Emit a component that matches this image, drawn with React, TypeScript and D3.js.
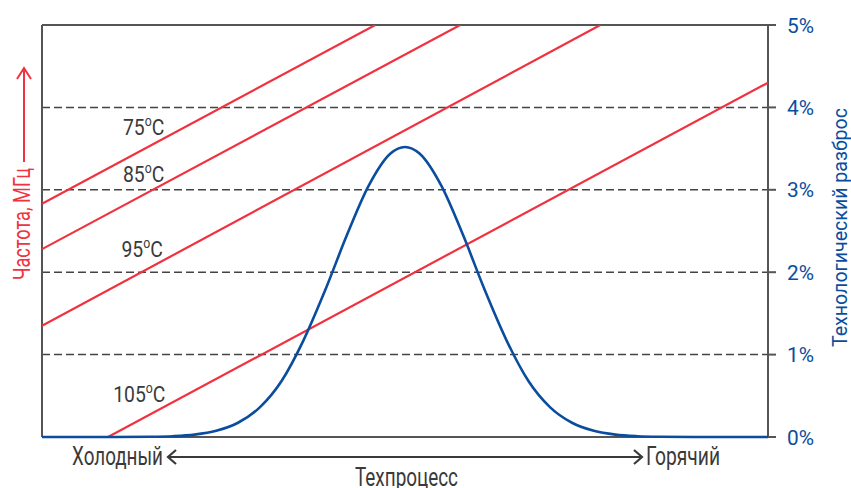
import React from "react";
import * as d3 from "d3";

// Process axis (0 = cold, 100 = hot) and technological spread (%)
const processX = [0, 10, 15, 18, 21, 24, 27, 30, 33, 36, 39, 42, 45, 48, 50, 52, 55, 58, 61, 64, 67, 70, 73, 76, 79, 82, 85, 90, 100];
const spreadPct = [0, 0, 0.003, 0.01, 0.029, 0.075, 0.173, 0.36, 0.68, 1.17, 1.78, 2.45, 3.05, 3.44, 3.52, 3.44, 3.05, 2.45, 1.78, 1.17, 0.68, 0.36, 0.173, 0.075, 0.029, 0.01, 0.003, 0, 0];

// Frequency lines per temperature (start/end in process units, y in right-axis units)
const temps = ["75", "85", "95", "105"];
const freqStartX = [0, 0, 0, 9.1];
const freqStartY = [2.83, 2.28, 1.35, 0];
const freqEndX = [45.9, 57.6, 76.9, 100];
const freqEndY = [5, 5, 5, 4.3];

const yTicks = [0, 1, 2, 3, 4, 5];
const gridTicks = [1, 2, 3, 4];

const W = 851, H = 488;
const L = 42, R = 768, T = 25, B = 437;
const RED = "#f0323f";
const BLUE = "#0a4d9e";
const GRAY = "#555";
const TXT = "#3a3a3a";
const FONT = "Roboto, 'Liberation Sans', sans-serif";

// label anchors (layout), in data units
const labelX = [14.0, 14.0, 13.8, 13.4];
const labelY = [3.66, 3.09, 2.18, 0.42];

export default function App() {
  const x = d3.scaleLinear().domain([0, 100]).range([L, R]);
  const y = d3.scaleLinear().domain([0, 5]).range([B, T]);
  const pts = processX.map((v, i) => [v, spreadPct[i]] as [number, number]);
  const line = d3.line<[number, number]>().x(d => x(d[0])).y(d => y(d[1])).curve(d3.curveMonotoneX);
  const adj = "spacingAndGlyphs";

  return (
    <svg width={W} height={H} style={{ position: "absolute", left: 0, top: 0, fontFamily: FONT }}>
      <defs>
        <clipPath id="plot">
          <rect x={L} y={T} width={R - L} height={B - T} />
        </clipPath>
      </defs>
      <rect x={0} y={0} width={W} height={H} fill="#fff" />

      {/* grid */}
      {gridTicks.map(t => (
        <line key={t} x1={L} x2={R} y1={y(t)} y2={y(t)} stroke="#444" strokeWidth={1.5} strokeDasharray="8,4" />
      ))}

      {/* frame */}
      <line x1={L} x2={R} y1={T} y2={T} stroke={GRAY} strokeWidth={2} />
      <line x1={L} x2={L} y1={T} y2={B} stroke={GRAY} strokeWidth={2} />
      <line x1={L} x2={R} y1={B} y2={B} stroke={GRAY} strokeWidth={2} />
      <line x1={R} x2={R} y1={T - 1} y2={B + 1} stroke={GRAY} strokeWidth={2} />
      {yTicks.map(t => (
        <g key={t}>
          <line x1={R} x2={R + 8} y1={y(t)} y2={y(t)} stroke={GRAY} strokeWidth={2} />
          <text x={R + 19} y={y(t) + 7.5} fontSize={21} fill={BLUE} textLength={27} lengthAdjust={adj}>{t}%</text>
        </g>
      ))}

      {/* frequency lines */}
      <g clipPath="url(#plot)">
        {temps.map((t, i) => (
          <line key={t} x1={x(freqStartX[i])} y1={y(freqStartY[i])} x2={x(freqEndX[i])} y2={y(freqEndY[i])}
            stroke={RED} strokeWidth={2.2} />
        ))}
      </g>

      {/* distribution curve */}
      <path d={line(pts) || ""} fill="none" stroke={BLUE} strokeWidth={2.6} />

      {/* temperature labels */}
      {temps.map((t, i) => (
        <g key={t} transform={`translate(${x(labelX[i])},${y(labelY[i])}) scale(0.88,1)`}>
          <text x={0} y={0} fontSize={22} fill={TXT} textAnchor="middle">
            {t}<tspan fontSize={14} dy={-9}>o</tspan><tspan dy={9}>C</tspan>
          </text>
        </g>
      ))}

      {/* left axis title */}
      <text transform="translate(30,224) rotate(-90)" textAnchor="middle" fontSize={23} fill={RED}
        textLength={112} lengthAdjust={adj}>Частота, МГц</text>
      <line x1={24} x2={24} y1={162} y2={69} stroke={RED} strokeWidth={2} />
      <polyline points="17,79 24,68 31,79" fill="none" stroke={RED} strokeWidth={2} />

      {/* right axis title */}
      <text transform="translate(847,227.5) rotate(-90)" textAnchor="middle" fontSize={20} fill={BLUE}
        textLength={239} lengthAdjust={adj}>Технологический разброс</text>

      {/* bottom annotation */}
      <text x={72} y={465} fontSize={25} fill={TXT} textLength={91} lengthAdjust={adj}>Холодный</text>
      <text x={646} y={465} fontSize={25} fill={TXT} textLength={74} lengthAdjust={adj}>Горячий</text>
      <line x1={168} x2={642} y1={457} y2={457} stroke={TXT} strokeWidth={2} />
      <polyline points="176,450 168,457 176,464" fill="none" stroke={TXT} strokeWidth={2.2} />
      <polyline points="634,450 642,457 634,464" fill="none" stroke={TXT} strokeWidth={2.2} />
      <text x={355} y={486} fontSize={25} fill={TXT} textLength={103} lengthAdjust={adj}>Техпроцесс</text>
    </svg>
  );
}
